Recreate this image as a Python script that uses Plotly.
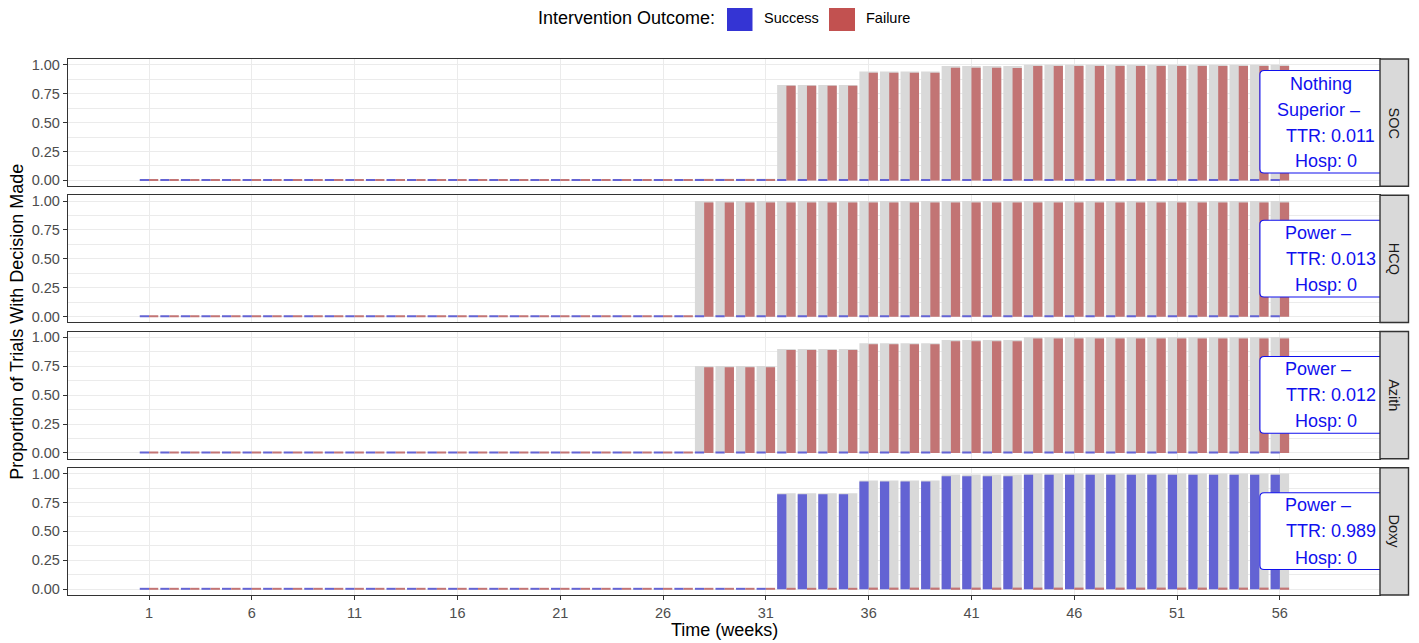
import plotly.graph_objects as go

# ---------------- data ----------------
weeks = list(range(1, 57))
x_tick_vals = [1, 6, 11, 16, 21, 26, 31, 36, 41, 46, 51, 56]
y_tick_vals = [0, 0.25, 0.5, 0.75, 1.0]
y_tick_text = ["0.00", "0.25", "0.50", "0.75", "1.00"]
arms = ["SOC", "HCQ", "Azith", "Doxy"]

soc_success = [
    0.008, 0.008, 0.008, 0.008, 0.008, 0.008, 0.008, 0.008, 0.008, 0.008,
    0.008, 0.008, 0.008, 0.008, 0.008, 0.008, 0.008, 0.008, 0.008, 0.008,
    0.008, 0.008, 0.008, 0.008, 0.008, 0.008, 0.008, 0.008, 0.008, 0.008,
    0.008, 0.008, 0.008, 0.008, 0.008, 0.013, 0.013, 0.013, 0.013, 0.013,
    0.013, 0.013, 0.013, 0.013, 0.013, 0.013, 0.013, 0.013, 0.013, 0.013,
    0.013, 0.013, 0.013, 0.013, 0.013, 0.013]
soc_failure = [
    0.008, 0.008, 0.008, 0.008, 0.008, 0.008, 0.008, 0.008, 0.008, 0.008,
    0.008, 0.008, 0.008, 0.008, 0.008, 0.008, 0.008, 0.008, 0.008, 0.008,
    0.008, 0.008, 0.008, 0.008, 0.008, 0.008, 0.008, 0.013, 0.013, 0.013,
    0.013, 0.818, 0.818, 0.818, 0.818, 0.930, 0.930, 0.930, 0.930, 0.974,
    0.974, 0.974, 0.972, 0.990, 0.990, 0.990, 0.990, 0.990, 0.990, 0.990,
    0.990, 0.990, 0.990, 0.990, 0.990, 0.990]
soc_total = [
    0, 0, 0, 0, 0, 0, 0, 0, 0, 0,
    0, 0, 0, 0, 0, 0, 0, 0, 0, 0,
    0, 0, 0, 0, 0, 0, 0, 0.015, 0.015, 0.015,
    0.015, 0.826, 0.826, 0.826, 0.826, 0.942, 0.942, 0.942, 0.942, 0.990,
    0.990, 0.990, 0.990, 1.0, 1.0, 1.0, 1.0, 1.0, 1.0, 1.0,
    1.0, 1.0, 1.0, 1.0, 1.0, 1.0]

hcq_success = [
    0.008, 0.008, 0.008, 0.008, 0.008, 0.008, 0.008, 0.008, 0.008, 0.008,
    0.008, 0.008, 0.008, 0.008, 0.008, 0.008, 0.008, 0.008, 0.008, 0.008,
    0.008, 0.008, 0.008, 0.008, 0.008, 0.008, 0.008, 0.013, 0.013, 0.013,
    0.013, 0.013, 0.013, 0.013, 0.013, 0.013, 0.013, 0.013, 0.013, 0.013,
    0.013, 0.013, 0.013, 0.013, 0.013, 0.013, 0.013, 0.013, 0.013, 0.013,
    0.013, 0.013, 0.013, 0.013, 0.013, 0.013]
hcq_failure = [
    0.008, 0.008, 0.008, 0.008, 0.008, 0.008, 0.008, 0.008, 0.008, 0.008,
    0.008, 0.008, 0.008, 0.008, 0.008, 0.008, 0.008, 0.008, 0.008, 0.008,
    0.008, 0.008, 0.008, 0.008, 0.008, 0.008, 0.008, 0.988, 0.988, 0.988,
    0.988, 0.988, 0.988, 0.988, 0.988, 0.988, 0.988, 0.988, 0.988, 0.988,
    0.988, 0.988, 0.988, 0.988, 0.988, 0.988, 0.988, 0.988, 0.988, 0.988,
    0.988, 0.988, 0.988, 0.988, 0.988, 0.988]
hcq_total = [
    0, 0, 0, 0, 0, 0, 0, 0, 0, 0,
    0, 0, 0, 0, 0, 0, 0, 0, 0, 0,
    0, 0, 0, 0, 0, 0, 0, 1.0, 1.0, 1.0,
    1.0, 1.0, 1.0, 1.0, 1.0, 1.0, 1.0, 1.0, 1.0, 1.0,
    1.0, 1.0, 1.0, 1.0, 1.0, 1.0, 1.0, 1.0, 1.0, 1.0,
    1.0, 1.0, 1.0, 1.0, 1.0, 1.0]

azith_success = [
    0.008, 0.008, 0.008, 0.008, 0.008, 0.008, 0.008, 0.008, 0.008, 0.008,
    0.008, 0.008, 0.008, 0.008, 0.008, 0.008, 0.008, 0.008, 0.008, 0.008,
    0.008, 0.008, 0.008, 0.008, 0.008, 0.008, 0.008, 0.012, 0.012, 0.012,
    0.012, 0.012, 0.012, 0.012, 0.012, 0.012, 0.012, 0.012, 0.012, 0.012,
    0.012, 0.012, 0.012, 0.012, 0.012, 0.012, 0.012, 0.012, 0.012, 0.012,
    0.012, 0.012, 0.012, 0.012, 0.012, 0.012]
azith_failure = [
    0.008, 0.008, 0.008, 0.008, 0.008, 0.008, 0.008, 0.008, 0.008, 0.008,
    0.008, 0.008, 0.008, 0.008, 0.008, 0.008, 0.008, 0.008, 0.008, 0.008,
    0.008, 0.008, 0.008, 0.008, 0.008, 0.008, 0.008, 0.741, 0.741, 0.741,
    0.741, 0.890, 0.890, 0.890, 0.890, 0.940, 0.940, 0.940, 0.940, 0.967,
    0.967, 0.967, 0.967, 0.990, 0.990, 0.990, 0.990, 0.990, 0.990, 0.990,
    0.990, 0.990, 0.990, 0.990, 0.990, 0.990]
azith_total = [
    0, 0, 0, 0, 0, 0, 0, 0, 0, 0,
    0, 0, 0, 0, 0, 0, 0, 0, 0, 0,
    0, 0, 0, 0, 0, 0, 0, 0.753, 0.753, 0.753,
    0.753, 0.900, 0.900, 0.900, 0.900, 0.949, 0.949, 0.949, 0.949, 0.977,
    0.977, 0.977, 0.977, 1.0, 1.0, 1.0, 1.0, 1.0, 1.0, 1.0,
    1.0, 1.0, 1.0, 1.0, 1.0, 1.0]

doxy_success = [
    0.008, 0.008, 0.008, 0.008, 0.008, 0.008, 0.008, 0.008, 0.008, 0.008,
    0.008, 0.008, 0.008, 0.008, 0.008, 0.008, 0.008, 0.008, 0.008, 0.008,
    0.008, 0.008, 0.008, 0.008, 0.008, 0.008, 0.008, 0.008, 0.008, 0.008,
    0.008, 0.822, 0.822, 0.822, 0.822, 0.931, 0.931, 0.931, 0.931, 0.978,
    0.978, 0.978, 0.978, 0.990, 0.990, 0.990, 0.990, 0.990, 0.990, 0.990,
    0.990, 0.990, 0.990, 0.990, 0.990, 0.990]
doxy_failure = [
    0.008, 0.008, 0.008, 0.008, 0.008, 0.008, 0.008, 0.008, 0.008, 0.008,
    0.008, 0.008, 0.008, 0.008, 0.008, 0.008, 0.008, 0.008, 0.008, 0.008,
    0.008, 0.008, 0.008, 0.008, 0.008, 0.008, 0.008, 0.008, 0.008, 0.008,
    0.008, 0.008, 0.008, 0.008, 0.008, 0.014, 0.014, 0.014, 0.014, 0.014,
    0.014, 0.014, 0.014, 0.014, 0.014, 0.014, 0.014, 0.014, 0.014, 0.014,
    0.014, 0.014, 0.014, 0.014, 0.014, 0.014]
doxy_total = [
    0, 0, 0, 0, 0, 0, 0, 0, 0, 0,
    0, 0, 0, 0, 0, 0, 0, 0, 0, 0,
    0, 0, 0, 0, 0, 0, 0, 0, 0, 0,
    0, 0.830, 0.830, 0.830, 0.830, 0.940, 0.940, 0.940, 0.940, 0.992,
    0.992, 0.992, 0.992, 1.0, 1.0, 1.0, 1.0, 1.0, 1.0, 1.0,
    1.0, 1.0, 1.0, 1.0, 1.0, 1.0]

success_series = [soc_success, hcq_success, azith_success, doxy_success]
failure_series = [soc_failure, hcq_failure, azith_failure, doxy_failure]
total_series = [soc_total, hcq_total, azith_total, doxy_total]

label_lines = [
    ["Nothing", "Superior –", "TTR: 0.011", "Hosp: 0"],
    ["Power –", "TTR: 0.013", "Hosp: 0"],
    ["Power –", "TTR: 0.012", "Hosp: 0"],
    ["Power –", "TTR: 0.989", "Hosp: 0"],
]

# ---------------- styling ----------------
FONT = "Liberation Sans, Arial, Helvetica, sans-serif"
OFF = 8                     # default page body margin
VW, VH = 1419, 643          # browser viewport
W, H = VW - OFF, VH - OFF   # figure size so that it ends at the viewport edge
# plot area in page pixels
PL, PR, PT, PB = 68, 1380, 59, 595.5
ML, MR, MT, MB = PL - OFF, VW - PR, PT - OFF, VH - PB
PW = PR - PL
PH = PB - PT
panel_h = 127.3
gap = (PH - 4 * panel_h) / 3

C_SUCC_BAR = "#6363D3"
C_FAIL_BAR = "#C27474"
C_GREY = "#D9D9D9"
C_SUCC_KEY = "#3434D4"
C_FAIL_KEY = "#C25150"
C_LABEL = "#1010EE"
GRID = "#EBEBEB"
BORDER = "#333333"
XR = [-2.94, 60.87]
YR = [-0.05, 1.05]


def xp(px):
    return (px - PL) / PW


def yp(py):
    return (PB - py) / PH


fig = go.Figure()
layout = dict(
    width=W, height=H,
    margin=dict(l=ML, r=MR, t=MT, b=MB, pad=0),
    paper_bgcolor="white", plot_bgcolor="white",
    barmode="overlay", showlegend=False,
    font=dict(family=FONT, color="#4D4D4D"),
)

shapes = []
annotations = []
for i in range(4):
    top = i * (panel_h + gap)
    d = [1 - (top + panel_h) / PH, 1 - top / PH]
    n = "" if i == 0 else str(i + 1)
    xa = "x" + n
    ya = "y" + n
    bottom = (i == 3)
    layout["xaxis" + n] = dict(
        domain=[0, 1], anchor=ya, range=XR, tickvals=x_tick_vals,
        showticklabels=bottom, ticks="outside" if bottom else "",
        ticklen=4, tickwidth=1.2, tickcolor=BORDER,
        tickfont=dict(size=14.5, color="#4D4D4D", family=FONT),
        showgrid=True, gridcolor=GRID, gridwidth=1.4, zeroline=False,
        showline=True, mirror=True, linecolor=BORDER, linewidth=1.4,
        matches="x" if i > 0 else None,
    )
    layout["yaxis" + n] = dict(
        domain=d, anchor=xa, range=YR, tickvals=y_tick_vals,
        ticktext=y_tick_text, ticks="outside", ticklen=4, tickwidth=1.2,
        tickcolor=BORDER, tickfont=dict(size=14.5, color="#4D4D4D", family=FONT),
        showgrid=True, gridcolor=GRID, gridwidth=1.4, zeroline=False,
        showline=True, mirror=True, linecolor=BORDER, linewidth=1.4,
        minor=dict(tickvals=[0.125, 0.375, 0.625, 0.875], showgrid=True,
                   gridcolor=GRID, gridwidth=0.7, ticks=""),
    )

    fig.add_trace(go.Bar(x=weeks, y=total_series[i], width=0.9, offset=-0.45,
                         marker=dict(color=C_GREY, line=dict(width=0)),
                         xaxis=xa, yaxis=ya, hoverinfo="skip"))
    fig.add_trace(go.Bar(x=weeks, y=success_series[i], width=0.45, offset=-0.45,
                         marker=dict(color=C_SUCC_BAR, line=dict(width=0)),
                         xaxis=xa, yaxis=ya, name="Success"))
    fig.add_trace(go.Bar(x=weeks, y=failure_series[i], width=0.45, offset=0.0,
                         marker=dict(color=C_FAIL_BAR, line=dict(width=0)),
                         xaxis=xa, yaxis=ya, name="Failure"))

    # label box (rounded on the left, clipped at the panel edge on the right)
    lines = label_lines[i]
    if len(lines) == 4:
        y0b, y1b = 0.064, 0.95
        ys = [0.836, 0.611, 0.386, 0.164]
    else:
        y0b, y1b = 0.17, 0.834
        ys = [0.725, 0.5, 0.272]
    x0b, x1b = 55.03, 62.5
    rx, ry = 0.2, 0.035
    path = (f"M {x1b},{y0b} L {x0b + rx},{y0b} Q {x0b},{y0b} {x0b},{y0b + ry} "
            f"L {x0b},{y1b - ry} Q {x0b},{y1b} {x0b + rx},{y1b} L {x1b},{y1b} Z")
    shapes.append(dict(type="path", path=path, xref=xa, yref=ya,
                       fillcolor="white", line=dict(color=C_LABEL, width=1.1),
                       layer="above"))
    centers = {"Nothing": 57.99, "Superior –": 57.87, "Power –": 57.87,
               "Hosp: 0": 58.26}
    for txt, yy in zip(lines, ys):
        cx = centers.get(txt, 58.48)
        annotations.append(dict(x=cx, y=yy, xref=xa, yref=ya, text=txt,
                                showarrow=False, xanchor="center", yanchor="middle",
                                font=dict(size=18, color=C_LABEL, family=FONT)))

    # facet strip on the right
    shapes.append(dict(type="rect", xref="paper", yref="paper",
                       x0=1.0, x1=xp(1408.5), y0=d[0], y1=d[1],
                       fillcolor=C_GREY, line=dict(color=BORDER, width=1.4),
                       layer="above"))
    annotations.append(dict(x=xp(1394), y=(d[0] + d[1]) / 2, xref="paper",
                            yref="paper", text=arms[i], showarrow=False,
                            textangle=90, xanchor="center", yanchor="middle",
                            font=dict(size=14.5, color="#1A1A1A", family=FONT)))

# axis titles
annotations.append(dict(x=xp(17), y=yp(322), xref="paper", yref="paper",
                        text="Proportion of Trials With Decision Made",
                        showarrow=False, textangle=-90, xanchor="center",
                        yanchor="middle", font=dict(size=18, color="black", family=FONT)))
annotations.append(dict(x=0.5, y=yp(631), xref="paper", yref="paper",
                        text="Time (weeks)", showarrow=False, xanchor="center",
                        yanchor="middle", font=dict(size=18, color="black", family=FONT)))

# legend (drawn manually to match the large square keys)
annotations.append(dict(x=xp(717), y=yp(18), xref="paper", yref="paper",
                        text="Intervention Outcome:", showarrow=False,
                        xanchor="right", yanchor="middle",
                        font=dict(size=18, color="black", family=FONT)))
shapes.append(dict(type="rect", xref="paper", yref="paper",
                   x0=xp(727), x1=xp(752.5), y0=yp(31), y1=yp(5),
                   fillcolor=C_SUCC_KEY, line=dict(width=0), layer="above"))
shapes.append(dict(type="rect", xref="paper", yref="paper",
                   x0=xp(829), x1=xp(855), y0=yp(31), y1=yp(5),
                   fillcolor=C_FAIL_KEY, line=dict(width=0), layer="above"))
annotations.append(dict(x=xp(762), y=yp(18), xref="paper", yref="paper",
                        text="Success", showarrow=False, xanchor="left",
                        yanchor="middle", font=dict(size=14.5, color="black", family=FONT)))
annotations.append(dict(x=xp(864), y=yp(18), xref="paper", yref="paper",
                        text="Failure", showarrow=False, xanchor="left",
                        yanchor="middle", font=dict(size=14.5, color="black", family=FONT)))

layout["shapes"] = shapes
layout["annotations"] = annotations
fig.update_layout(**layout)

fig.write_html("out.html", config={"displayModeBar": False})
